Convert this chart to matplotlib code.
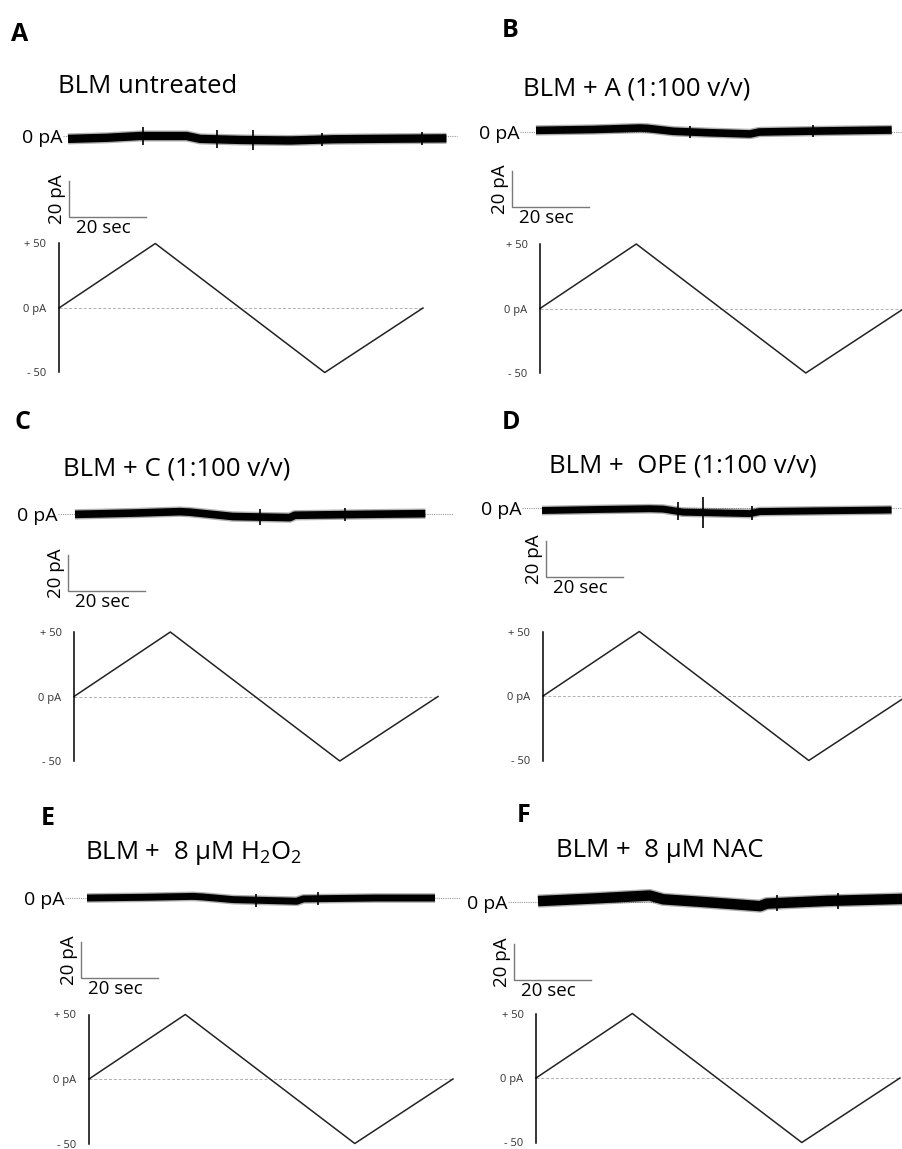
import numpy as np
import matplotlib
matplotlib.use("Agg")
import matplotlib.pyplot as plt

plt.rcParams['font.family'] = ['Open Sans', 'DejaVu Sans']
plt.rcParams['mathtext.fontset'] = 'custom'
plt.rcParams['mathtext.rm'] = 'Open Sans'

W, H = 902, 1149

letters = ['A', 'B', 'C', 'D', 'E', 'F']
titles = ['BLM untreated',
          'BLM + A (1:100 v/v)',
          'BLM + C (1:100 v/v)',
          'BLM +  OPE (1:100 v/v)',
          r'BLM +  8 µM H$_\mathregular{2}$O$_\mathregular{2}$',
          'BLM +  8 µM NAC']

# slow drift of each current record (time in sec, current in pA)
trace_a_t = [0, 10, 18.7, 30.8, 34.3, 45, 57.7, 68.9, 85, 98.3]
trace_a_i = [-1.6, -1.0, 0, 0, -1.6, -2.2, -2.5, -1.8, -1.5, -1.3]
trace_b_t = [0, 15, 27, 29, 35.6, 45, 55.6, 58, 75, 92.4]
trace_b_i = [0.9, 1.4, 2.2, 2.0, 0.4, -0.4, -1.1, 0, 0.6, 1.1]
trace_c_t = [0, 15, 27.3, 29.9, 41, 55.8, 57.1, 75, 91]
trace_c_i = [-0.2, 0.5, 1.3, 1.0, -1.4, -2.0, -0.7, -0.2, 0.2]
trace_d_t = [0, 15, 28, 31.5, 36.6, 54, 56.6, 75, 90.8]
trace_d_i = [-1.4, -0.8, -0.4, -0.6, -2.3, -3.1, -2.0, -1.5, -1.1]
trace_e_t = [0, 15, 27.6, 30, 38, 54.5, 56.2, 75, 90.4]
trace_e_i = [0, 0.4, 0.9, 0.6, -0.9, -1.8, -0.5, 0, 0]
trace_f_t = [0, 15, 29, 32.5, 45, 57.7, 59.4, 75, 96]
trace_f_i = [0.5, 2.0, 3.6, 1.5, -0.3, -2.3, -0.9, 0.6, 1.8]

# brief transients on top of the band (time in sec, half height in pA)
spike_a_t = [19.5, 38.6, 48.1, 66.0, 92.0]
spike_a_h = [5.0, 5.0, 5.5, 3.5, 3.5]
spike_b_t = [40.0, 72.0]
spike_b_h = [3.5, 3.5]
spike_c_t = [48.0, 70.0]
spike_c_h = [4.5, 3.5]
spike_d_t = [35.3, 41.8, 54.5]
spike_d_h = [5.0, 8.5, 4.0]
spike_e_t = [44.0, 60.0]
spike_e_h = [3.5, 3.5]
spike_f_t = [62.0, 78.0]
spike_f_h = [4.5, 4.5]

traces = [(trace_a_t, trace_a_i, spike_a_t, spike_a_h),
          (trace_b_t, trace_b_i, spike_b_t, spike_b_h),
          (trace_c_t, trace_c_i, spike_c_t, spike_c_h),
          (trace_d_t, trace_d_i, spike_d_t, spike_d_h),
          (trace_e_t, trace_e_i, spike_e_t, spike_e_h),
          (trace_f_t, trace_f_i, spike_f_t, spike_f_h)]

# applied ramp (same in every panel)
ramp_t = [0, 25, 69, 94.5]
ramp_v = [0, 50, -50, 0]
ramp_ticks = [-50, 0, 50]
ramp_labels = ['- 50', '0 pA', '+ 50']

scale_sec = 20
scale_pa = 20

# layout, in pixels of the 902 x 1149 image
PX_SEC = 3.85
PX_PA = 1.8
layout = [
    # letter xy, title xy, trace start x, baseline y, label right x, dotted end x,
    # scale bar corner xy, ramp axis x, ramp zero y, band width (pt)
    dict(letter=(11, 22), title=(58, 74), x0=68, y0=136, lab=63, dot=457,
         bar=(69, 217), rx=59, ry=308, lw=6.0),
    dict(letter=(502, 18), title=(523, 76), x0=536, y0=132, lab=520, dot=902,
         bar=(512, 207), rx=540, ry=308.5, lw=5.5),
    dict(letter=(14, 410), title=(63, 456), x0=75, y0=514, lab=58, dot=453,
         bar=(68, 591), rx=74, ry=696.5, lw=5.5),
    dict(letter=(502, 410), title=(549, 453), x0=542, y0=508, lab=522, dot=902,
         bar=(546, 577), rx=543, ry=696, lw=5.0),
    dict(letter=(41, 806), title=(85, 839), x0=87, y0=898, lab=65, dot=460,
         bar=(81, 978), rx=89, ry=1079, lw=5.0),
    dict(letter=(517, 803), title=(556, 838), x0=538, y0=902, lab=508, dot=902,
         bar=(514, 980), rx=536, ry=1078, lw=7.5),
]


def px_axes(fig, left, top, width, height):
    return fig.add_axes([left / W, 1 - (top + height) / H, width / W, height / H])


fig = plt.figure(figsize=(W / 100, H / 100), dpi=100)

for k, cfg in enumerate(layout):
    # panel letter and condition
    fig.text(cfg['letter'][0] / W, 1 - cfg['letter'][1] / H, letters[k],
             fontsize=18, fontweight='bold', va='top', ha='left')
    fig.text(cfg['title'][0] / W, 1 - cfg['title'][1] / H, titles[k],
             fontsize=18.5, va='top', ha='left')

    # current record
    col_left = 0 if k % 2 == 0 else 451
    x0, y0 = cfg['x0'], cfg['y0']
    top, bottom = y0 - 60, y0 + 110
    ax = px_axes(fig, col_left, top, 451, bottom - top)
    ax.set_xlim((col_left - x0) / PX_SEC, (col_left + 451 - x0) / PX_SEC)
    ax.set_ylim(-(bottom - y0) / PX_PA, (y0 - top) / PX_PA)
    ax.axis('off')

    t, cur, sp_t, sp_h = traces[k]
    lab_t = (cfg['lab'] - x0) / PX_SEC
    dot_t = (cfg['dot'] - x0) / PX_SEC
    ax.plot([lab_t, dot_t], [0, 0], ls=(0, (1, 1)), color='#9a9a9a', lw=0.8,
            clip_on=False)
    ax.plot(t, cur, color='black', lw=cfg['lw'] + 2.0, alpha=0.3,
            solid_capstyle='butt')
    ax.plot(t, cur, color='black', lw=cfg['lw'], solid_capstyle='butt')
    mid = np.interp(sp_t, t, cur)
    ax.vlines(sp_t, mid - np.array(sp_h), mid + np.array(sp_h), color='black',
              lw=1.2)
    ax.text(lab_t - 0.2, -1.0, '0 pA', fontsize=14, ha='right', va='center')

    # scale bar
    bt = (cfg['bar'][0] - x0) / PX_SEC
    bi = -(cfg['bar'][1] - y0) / PX_PA
    ax.plot([bt, bt, bt + scale_sec], [bi + scale_pa, bi, bi], color='#7a7a7a',
            lw=1.0, solid_joinstyle='miter')
    ax.text(bt - 0.7, bi + scale_pa / 2, '%d pA' % scale_pa, rotation=90,
            fontsize=13.5, ha='right', va='center')
    ax.text(bt + 1.8, bi - 1.2, '%d sec' % scale_sec, fontsize=13.5,
            ha='left', va='top')

    # ramp
    rax = px_axes(fig, cfg['rx'], cfg['ry'] - 64.5, 364, 129)
    rax.set_xlim(0, 94.5)
    rax.set_ylim(-50, 50)
    for s in ['top', 'right', 'bottom']:
        rax.spines[s].set_visible(False)
    rax.spines['left'].set_linewidth(1.1)
    rax.set_xticks([])
    rax.set_yticks(ramp_ticks, ramp_labels)
    rax.tick_params(axis='y', length=0, pad=9, labelsize=8, labelcolor='#333333')
    rax.patch.set_visible(False)
    rax.axhline(0, ls=(0, (3, 2)), color='#b0b0b0', lw=0.7)
    rax.plot(ramp_t, ramp_v, color='#222222', lw=1.1, clip_on=False)

fig.savefig('out.png', dpi=100)
